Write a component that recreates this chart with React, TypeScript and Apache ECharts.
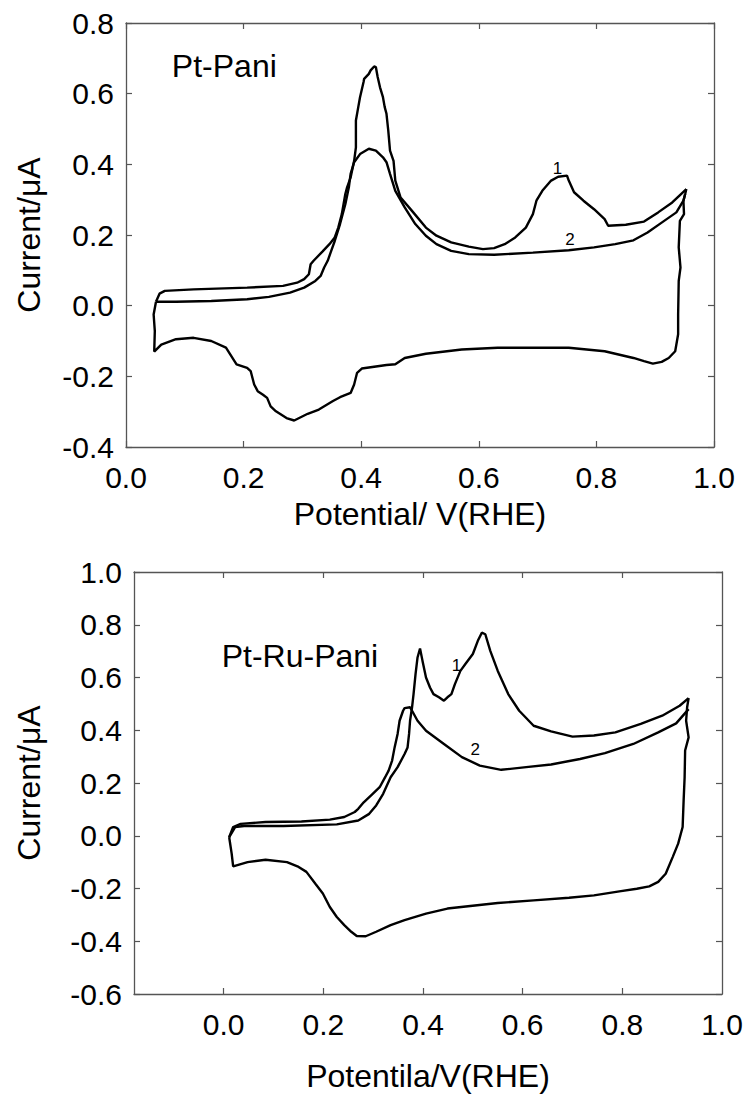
import React, { useEffect, useRef } from "react";
import * as echarts from "echarts";

// ---------- Data: Pt-Pani (top panel) ----------
const ptPaniCycle1: number[][] = [
  [0.051, 0.011], [0.057, 0.034], [0.066, 0.042], [0.115, 0.046], [0.206, 0.051],
  [0.267, 0.056], [0.291, 0.065], [0.303, 0.075], [0.311, 0.089], [0.314, 0.117],
  [0.319, 0.127], [0.334, 0.153], [0.346, 0.174], [0.355, 0.193], [0.361, 0.221],
  [0.367, 0.259], [0.373, 0.316], [0.376, 0.335], [0.382, 0.363], [0.388, 0.41],
  [0.391, 0.448], [0.391, 0.524], [0.395, 0.562], [0.398, 0.59], [0.404, 0.633],
  [0.405, 0.642], [0.413, 0.656], [0.416, 0.666], [0.422, 0.677], [0.425, 0.675],
  [0.428, 0.647], [0.432, 0.618], [0.437, 0.59], [0.44, 0.562], [0.443, 0.543],
  [0.446, 0.496], [0.449, 0.439], [0.455, 0.41], [0.458, 0.354], [0.467, 0.306],
  [0.486, 0.269], [0.51, 0.221], [0.528, 0.198], [0.553, 0.179], [0.583, 0.167],
  [0.607, 0.16], [0.626, 0.163], [0.644, 0.174], [0.662, 0.193], [0.68, 0.221],
  [0.692, 0.259], [0.698, 0.297], [0.708, 0.325], [0.723, 0.354], [0.735, 0.365],
  [0.75, 0.368], [0.753, 0.354], [0.762, 0.321], [0.778, 0.297], [0.796, 0.273],
  [0.814, 0.245], [0.82, 0.226], [0.85, 0.229], [0.881, 0.238], [0.905, 0.264],
  [0.929, 0.292], [0.953, 0.33],
];
const ptPaniCycle2: number[][] = [
  [0.051, 0.011], [0.085, 0.011], [0.145, 0.013], [0.206, 0.018], [0.243, 0.025],
  [0.279, 0.037], [0.303, 0.051], [0.322, 0.07], [0.331, 0.084], [0.337, 0.108],
  [0.343, 0.127], [0.349, 0.155], [0.355, 0.183], [0.364, 0.231], [0.373, 0.287],
  [0.379, 0.335], [0.382, 0.373], [0.388, 0.406], [0.398, 0.429], [0.413, 0.444],
  [0.425, 0.439], [0.437, 0.42], [0.443, 0.406], [0.449, 0.373], [0.458, 0.325],
  [0.474, 0.278], [0.492, 0.231], [0.51, 0.198], [0.528, 0.174], [0.553, 0.155],
  [0.583, 0.146], [0.626, 0.144], [0.692, 0.15], [0.753, 0.157], [0.796, 0.165],
  [0.832, 0.174], [0.863, 0.185], [0.887, 0.207], [0.911, 0.235], [0.936, 0.264],
  [0.948, 0.297], [0.951, 0.316],
];
const ptPaniCathodic: number[][] = [
  [0.953, 0.33], [0.951, 0.316], [0.948, 0.297], [0.949, 0.259], [0.942, 0.24],
  [0.94, 0.165], [0.943, 0.108], [0.94, 0.07], [0.939, -0.025], [0.939, -0.081],
  [0.936, -0.11], [0.934, -0.129], [0.923, -0.148], [0.911, -0.159], [0.896, -0.164],
  [0.881, -0.157], [0.863, -0.148], [0.814, -0.129], [0.753, -0.119], [0.632, -0.119],
  [0.571, -0.124], [0.51, -0.136], [0.474, -0.148], [0.458, -0.166], [0.443, -0.168],
  [0.401, -0.178], [0.393, -0.19], [0.388, -0.223], [0.382, -0.247], [0.364, -0.259],
  [0.352, -0.27], [0.328, -0.294], [0.309, -0.306], [0.286, -0.325], [0.273, -0.318],
  [0.255, -0.299], [0.246, -0.285], [0.24, -0.261], [0.233, -0.252], [0.224, -0.242],
  [0.218, -0.223], [0.212, -0.185], [0.206, -0.176], [0.188, -0.166], [0.17, -0.119],
  [0.145, -0.1], [0.115, -0.091], [0.085, -0.095], [0.06, -0.11], [0.048, -0.13],
  [0.049, -0.072], [0.047, -0.025], [0.051, 0.011],
];

// ---------- Data: Pt-Ru-Pani (bottom panel) ----------
const ptRuPaniCycle1: number[][] = [
  [0.011, -0.005], [0.023, 0.033], [0.041, 0.037], [0.12, 0.037], [0.227, 0.043],
  [0.27, 0.058], [0.292, 0.083], [0.306, 0.115], [0.32, 0.159], [0.335, 0.222],
  [0.349, 0.26], [0.363, 0.31], [0.369, 0.335], [0.372, 0.386], [0.374, 0.436],
  [0.378, 0.487], [0.381, 0.537], [0.385, 0.613], [0.389, 0.676], [0.394, 0.71],
  [0.399, 0.663], [0.406, 0.6], [0.414, 0.562], [0.421, 0.537], [0.432, 0.525],
  [0.442, 0.512], [0.449, 0.525], [0.457, 0.537], [0.464, 0.575], [0.475, 0.625],
  [0.485, 0.651], [0.5, 0.689], [0.51, 0.739], [0.518, 0.77], [0.525, 0.764],
  [0.535, 0.701], [0.55, 0.625], [0.571, 0.537], [0.593, 0.474], [0.622, 0.417],
  [0.657, 0.396], [0.7, 0.376], [0.743, 0.38], [0.786, 0.392], [0.837, 0.424],
  [0.88, 0.455], [0.915, 0.493], [0.933, 0.522],
];
const ptRuPaniCycle2: number[][] = [
  [0.011, -0.005], [0.019, 0.033], [0.034, 0.045], [0.084, 0.052], [0.156, 0.054],
  [0.213, 0.061], [0.242, 0.071], [0.263, 0.09], [0.27, 0.102], [0.281, 0.127],
  [0.299, 0.159], [0.313, 0.184], [0.324, 0.222], [0.331, 0.247], [0.338, 0.285],
  [0.343, 0.335], [0.349, 0.386], [0.353, 0.436], [0.36, 0.474], [0.363, 0.484],
  [0.374, 0.487], [0.378, 0.474], [0.389, 0.436], [0.406, 0.398], [0.442, 0.348],
  [0.478, 0.298], [0.514, 0.266], [0.557, 0.25], [0.607, 0.26], [0.657, 0.27],
  [0.715, 0.291], [0.765, 0.313], [0.822, 0.348], [0.872, 0.392], [0.908, 0.426],
  [0.933, 0.48],
];
const ptRuPaniCathodic: number[][] = [
  [0.933, 0.522], [0.93, 0.487], [0.928, 0.436], [0.933, 0.373], [0.926, 0.323],
  [0.925, 0.222], [0.923, 0.134], [0.921, 0.033], [0.912, -0.03], [0.901, -0.081],
  [0.887, -0.144], [0.872, -0.175], [0.854, -0.192], [0.829, -0.201], [0.794, -0.211],
  [0.743, -0.226], [0.693, -0.235], [0.622, -0.245], [0.55, -0.255], [0.449, -0.276],
  [0.406, -0.295], [0.363, -0.32], [0.335, -0.339], [0.306, -0.364], [0.285, -0.381],
  [0.267, -0.38], [0.256, -0.364], [0.242, -0.339], [0.227, -0.308], [0.213, -0.27],
  [0.199, -0.219], [0.184, -0.182], [0.166, -0.137], [0.148, -0.116], [0.127, -0.1],
  [0.084, -0.091], [0.048, -0.1], [0.019, -0.116], [0.016, -0.068], [0.012, -0.018],
  [0.011, -0.005],
];

// ---------- Axis ticks / labels ----------
const topXTicks = [0, 0.2, 0.4, 0.6, 0.8, 1.0];
const bottomXLabels = [0, 0.2, 0.4, 0.6, 0.8, 1.0];
const bottomXTicks = [0, 0.2, 0.4, 0.6, 0.8];

// ---------- Annotations ----------
const topNotes: { text: string; pos: number[]; big: boolean }[] = [
  { text: "Pt-Pani", pos: [0.078, 0.678], big: true },
  { text: "1", pos: [0.734, 0.387], big: false },
  { text: "2", pos: [0.755, 0.188], big: false },
];
const bottomNotes: { text: string; pos: number[]; big: boolean }[] = [
  { text: "Pt-Ru-Pani", pos: [-0.004, 0.682], big: true },
  { text: "1", pos: [0.467, 0.644], big: false },
  { text: "2", pos: [0.505, 0.327], big: false },
];

const FONT = "'Liberation Sans', Arial, Helvetica, sans-serif";
const AXIS_COLOR = "#555";
const TICK_FONT = 30;
const NAME_FONT = 32;
const fmt = (v: number) => (Math.abs(v) < 1e-9 ? 0 : v).toFixed(1);

function lineSeries(data: number[][], idx: number) {
  return {
    type: "line",
    xAxisIndex: idx,
    yAxisIndex: idx,
    data,
    showSymbol: false,
    symbol: "none",
    smooth: false,
    lineStyle: { color: "#000", width: 2.4 },
    silent: true,
    z: 3,
  };
}

function noteSeries(notes: { text: string; pos: number[]; big: boolean }[], idx: number) {
  return {
    type: "scatter",
    xAxisIndex: idx,
    yAxisIndex: idx,
    symbolSize: 0,
    silent: true,
    itemStyle: { color: "#000", opacity: 1 },
    emphasis: { disabled: true },
    data: notes.map((n) => ({
      value: n.pos,
      label: {
        show: true,
        formatter: n.text,
        position: [0, 0],
        align: n.big ? "left" : "center",
        verticalAlign: "middle",
        fontSize: n.big ? 32 : 17,
        fontFamily: FONT,
        color: "#000",
        opacity: 1,
        textBorderWidth: 0,
      },
    })),
    z: 4,
  };
}

const lineCommon = { show: true, onZero: false, lineStyle: { color: AXIS_COLOR, width: 1.3 } };
const tickCommon = { show: true, inside: true, length: 6, lineStyle: { color: AXIS_COLOR, width: 1.2 } };

function mainX(grid: number, extra: any) {
  return {
    gridIndex: grid,
    type: "value",
    position: "bottom",
    axisLine: lineCommon,
    axisTick: tickCommon,
    splitLine: { show: false },
    nameLocation: "middle",
    nameTextStyle: { fontSize: NAME_FONT, color: "#000", fontFamily: FONT },
    ...extra,
  };
}
function topX(grid: number, extra: any) {
  return {
    gridIndex: grid,
    type: "value",
    position: "top",
    axisLine: lineCommon,
    axisTick: tickCommon,
    axisLabel: { show: false },
    splitLine: { show: false },
    ...extra,
  };
}
function leftY(grid: number, extra: any) {
  return {
    gridIndex: grid,
    type: "value",
    position: "left",
    axisLine: lineCommon,
    axisTick: tickCommon,
    axisLabel: { fontSize: TICK_FONT, color: "#000", fontFamily: FONT, margin: 12, formatter: fmt },
    splitLine: { show: false },
    name: "Current/μA",
    nameLocation: "middle",
    nameRotate: 90,
    nameTextStyle: { fontSize: NAME_FONT, color: "#000", fontFamily: FONT },
    ...extra,
  };
}
function rightY(grid: number, extra: any) {
  return {
    gridIndex: grid,
    type: "value",
    position: "right",
    axisLine: lineCommon,
    axisTick: tickCommon,
    axisLabel: { show: false },
    splitLine: { show: false },
    ...extra,
  };
}

export default function App() {
  const ref = useRef<HTMLDivElement>(null);
  useEffect(() => {
    if (!ref.current) return;
    const chart = echarts.init(ref.current, null, { renderer: "svg" });
    const option: any = {
      animation: false,
      backgroundColor: "#fff",
      textStyle: { fontFamily: FONT },
      grid: [
        { left: 126, top: 23, width: 588, height: 424 },
        { left: 134, top: 572, width: 588, height: 422 },
      ],
      xAxis: [
        mainX(0, {
          min: 0, max: 1, interval: 0.2,
          axisLabel: { fontSize: TICK_FONT, color: "#000", fontFamily: FONT, margin: 15, formatter: fmt, customValues: topXTicks },
          name: "Potential/ V(RHE)", nameGap: 51,
        }),
        topX(0, { min: 0, max: 1, interval: 0.2 }),
        mainX(1, {
          min: -0.18, max: 1,
          axisTick: { ...tickCommon, customValues: bottomXTicks },
          axisLabel: { fontSize: TICK_FONT, color: "#000", fontFamily: FONT, margin: 15, formatter: fmt, customValues: bottomXLabels },
          name: "Potentila/V(RHE)", nameGap: 66,
        }),
        topX(1, {
          min: -0.18, max: 1,
          axisTick: { ...tickCommon, customValues: bottomXTicks },
        }),
      ],
      yAxis: [
        leftY(0, { min: -0.4, max: 0.8, interval: 0.2, nameGap: 81 }),
        rightY(0, { min: -0.4, max: 0.8, interval: 0.2 }),
        leftY(1, { min: -0.6, max: 1.0, interval: 0.2, nameGap: 89 }),
        rightY(1, { min: -0.6, max: 1.0, interval: 0.2 }),
      ],
      series: [
        lineSeries(ptPaniCycle1, 0),
        lineSeries(ptPaniCycle2, 0),
        lineSeries(ptPaniCathodic, 0),
        noteSeries(topNotes, 0),
        { ...lineSeries(ptRuPaniCycle1, 2), yAxisIndex: 2 },
        { ...lineSeries(ptRuPaniCycle2, 2), yAxisIndex: 2 },
        { ...lineSeries(ptRuPaniCathodic, 2), yAxisIndex: 2 },
        { ...noteSeries(bottomNotes, 2), yAxisIndex: 2 },
      ],
    };
    chart.setOption(option);
    return () => chart.dispose();
  }, []);
  return (
    <div
      ref={ref}
      style={{ position: "fixed", left: 0, top: 0, width: 747, height: 1100, background: "#fff" }}
    />
  );
}
